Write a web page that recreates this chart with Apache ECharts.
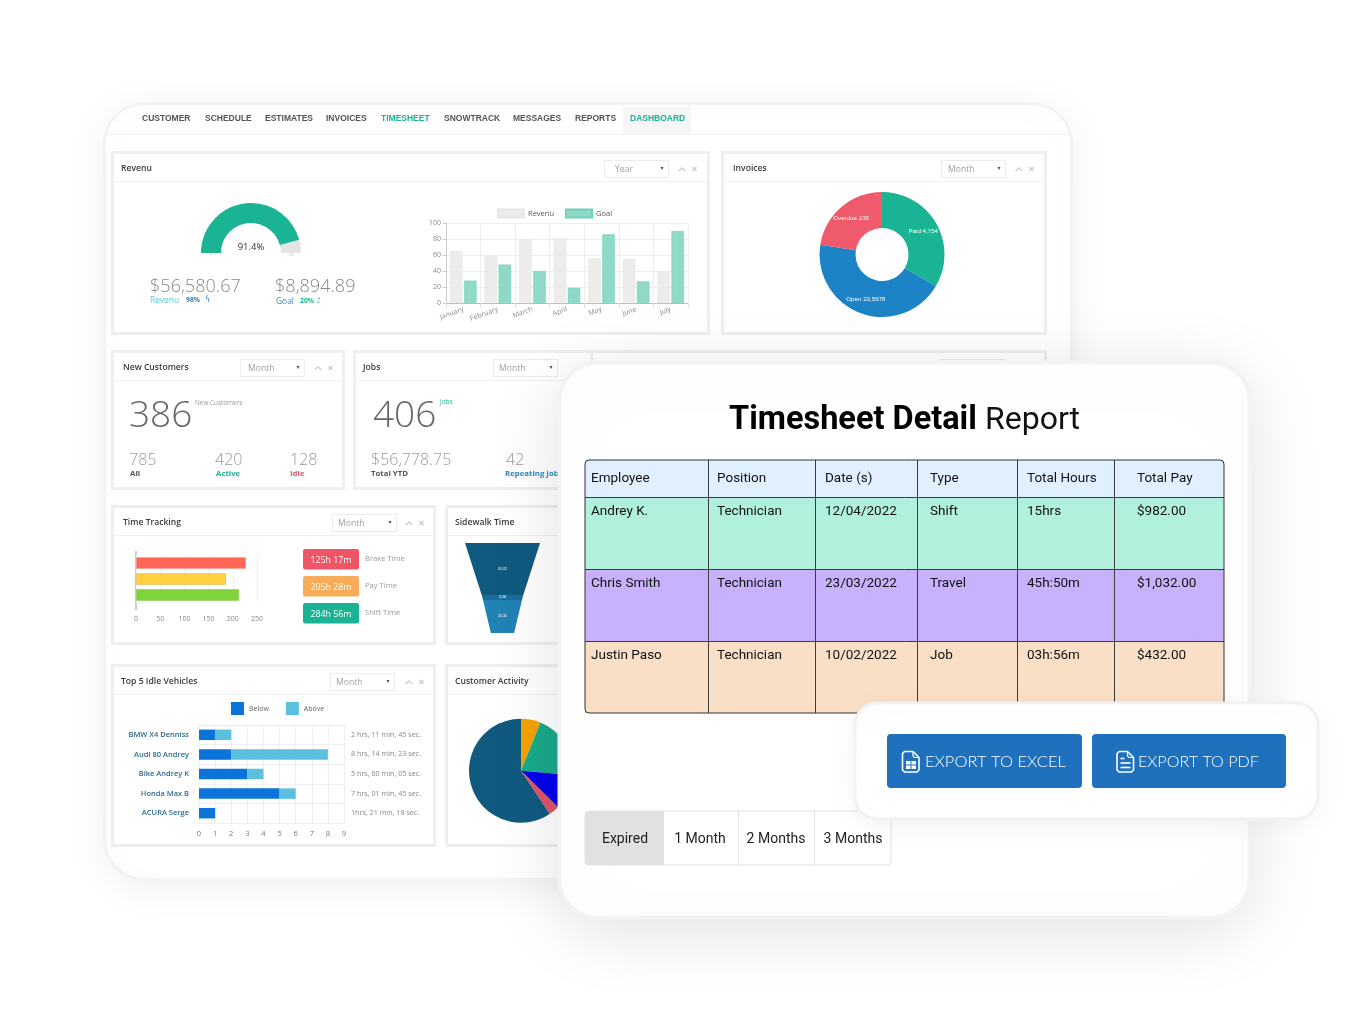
<!DOCTYPE html>
<html><head><meta charset="utf-8">
<style>html,body{margin:0;padding:0;background:#fff;width:1355px;height:1020px;overflow:hidden}
#dash,#report{position:absolute;left:0;top:0;width:1355px;height:1020px}
#dash{filter:blur(.45px)}</style>
<script src="https://cdn.jsdelivr.net/npm/echarts@6/dist/echarts.min.js"></script>
</head><body><div id="dash"></div><div id="report"></div>
<script>
// ---------- data ----------
var navItems=['CUSTOMER','SCHEDULE','ESTIMATES','INVOICES','TIMESHEET','SNOWTRACK','MESSAGES','REPORTS','DASHBOARD'];
var months=['January','February','March','April','May','June','July'];
var revenuValues=[65,59,80,81,56,55,40];
var goalValues=[28,48,40,19,86,27,90];
var gaugeValue=91.4;
var invoiceNames=['Paid 4,754','Open 23,5678','Overdue 235'];
var invoiceShares=[33.5,44,22.5];
var timeNames=['Brake Time','Pay Time','Shift Time'];
var timeValues=[227,186,213];
var timeBadges=['125h 17m','205h 28m','284h 56m'];
var funnelNames=['45,625','3,284','28,145'];
var funnelValues=[100,35.5,30.4];
var vehicles=['BMW X4 Denniss','Audi 80 Andrey','Bike Andrey K','Honda Max B','ACURA Serge'];
var belowValues=[1,2,3,5,1];
var aboveValues=[1,6,1,1,0];
var vehicleTimes=['2 hrs, 11 min, 45 sec.','8 hrs, 14 min, 23 sec.','5 hrs, 60 min, 05 sec.','7 hrs, 01 min, 45 sec.','1hrs, 21 min, 18 sec.'];
var activityNames=['Orange','Teal','Blue','Red','Navy'];
var activityShares=[6.1,20.3,11,3.3,59.3];
var tableHeader=['Employee','Position','Date (s)','Type','Total Hours','Total Pay'];
var tableRows=[
 ['Andrey K.','Technician','12/04/2022','Shift','15hrs','$982.00'],
 ['Chris Smith','Technician','23/03/2022','Travel','45h:50m','$1,032.00'],
 ['Justin Paso','Technician','10/02/2022','Job','03h:56m','$432.00']];
var tabLabels=['Expired','1 Month','2 Months','3 Months'];

// ---------- helpers ----------
var OS='"Open Sans",sans-serif', GS='Roboto,sans-serif';
var g=[];
function T(x,y,text,size,color,o){o=o||{};g.push({type:'text',x:x,y:y,z:o.z==null?-1:o.z,silent:true,style:{text:text,fontSize:size,fill:color,fontFamily:o.font||OS,fontWeight:o.w||400,align:o.a||'left',verticalAlign:'middle'}});}
function R(x,y,w,h,fill,o){o=o||{};g.push({type:'rect',z:o.z==null?-3:o.z,silent:true,shape:{x:x,y:y,width:w,height:h,r:o.r||0},style:{fill:fill,stroke:o.s||null,lineWidth:o.lw||0,shadowBlur:o.sb||0,shadowColor:o.sc||'transparent',shadowOffsetY:o.sy||0}});}
function L(pts,color,lw,z){g.push({type:'polyline',z:z==null?-2:z,silent:true,shape:{points:pts},style:{stroke:color,lineWidth:lw||1,fill:null}});}
function controls(sx,label,cx,y,noChev,lx){
 R(sx+.5,y+.5,64,17,'#fff',{s:'#ececec',lw:1,z:-2});
 T(sx+(lx||8),y+9.5,label,8.6,'#a0a0a0');
 T(sx+58,y+8.5,'▾',6,'#555',{font:'"DejaVu Sans"',a:'center'});
 if(!noChev) L([[cx-3.5,y+11],[cx,y+8],[cx+3.5,y+11]],'#cfcfcf',1.4);
 var xx=cx+12.5;
 L([[xx-2,y+7],[xx+2,y+11]],'#cfcfcf',1.4);L([[xx+2,y+7],[xx-2,y+11]],'#cfcfcf',1.4);
}
function panel(x,y,w,h,title,tx,tsize){
 R(x+1.5,y+1.5,w-3,h-3,'#fff',{s:'#efefef',lw:3});
 L([[x+3,y+30.5],[x+w-3,y+30.5]],'#f1f1f1',1);
 T(tx,y+17.8,title,tsize||8.6,'#3a3a3a',{w:600});
}

// ---------- dashboard chrome ----------
R(104.5,103.5,967,776,'#fff',{r:40,s:'#f3f3f3',lw:3,z:-9,sb:40,sc:'rgba(0,0,0,.07)',sy:6});
L([[107,134.5],[1070,134.5]],'#f2f2f2',1,-8);
R(623,106,68,28,'#f6f6f6',{z:-8});
var navX=[142,205,265,326,381,444,513,575,630];
navItems.forEach(function(n,i){T(navX[i],119,n,8.5,(i==4||i==8)?'#1ab394':'#555',{w:700,font:'"Liberation Sans"'});});

panel(111,151,599,184,'Revenu',121);
controls(604,'Year',682,160,false,11);
panel(721,151,326,184,'Invoices',733);
controls(941,'Month',1019,160,false,7);
panel(111,350,234,140,'New Customers',123);
controls(240,'Month',318,359);
panel(353,350,240,140,'Jobs',363);
controls(493,'Month',581,359,true,6);
panel(590,350,457,140,'',600);
controls(940,'Month',1019,359);
panel(111,505,325,140,'Time Tracking',123);
controls(332,'Month',409,514,false,6);
panel(445,505,240,140,'Sidewalk Time',455);
panel(111,664,325,183,'Top 5 Idle Vehicles',121);
controls(330,'Month',409,673,false,6);
panel(445,664,240,183,'Customer Activity',455);

// revenue panel texts
T(251,247.5,gaugeValue+'%',9.5,'#333',{a:'center'});
T(211,255,'0',3,'#bbb',{a:'center'});T(291,255,'100',3,'#bbb',{a:'center'});
T(150,286.5,'$56,580.67',18.1,'#8a8a8a',{w:300});
T(275,286.5,'$8,894.89',18.1,'#8a8a8a',{w:300});
T(150,300.5,'Revenu',8.4,'#62c5d6');T(186,300.5,'98%',6.8,'#2a7fc0',{w:700});
T(205,300,'ϟ',8,'#2a7fc0',{font:'"DejaVu Sans"'});
T(276,301.5,'Goal',8.4,'#2a8cc0');T(300,301.5,'20%',6.8,'#1ab394',{w:700});
T(317,301,'⤴',7,'#1ab394',{font:'"DejaVu Sans"'});

// customers
T(129,416,'386',37,'#666',{w:300});T(195,403.5,'New Customers',6.4,'#999');
T(129,460,'785',16,'#999',{w:300});T(130,473.5,'All',7.8,'#555',{w:700});
T(215,460,'420',16,'#999',{w:300});T(216,473.5,'Active',7.8,'#1ab394',{w:700});
T(290,460,'128',16,'#999',{w:300});T(290,473.5,'Idle',7.8,'#e25668',{w:700});
// jobs
T(373,416,'406',37,'#666',{w:300});T(440,402,'Jobs',6.4,'#1ab394');
T(371,460,'$56,778.75',16,'#999',{w:300});T(371,473.5,'Total YTD',7.8,'#555',{w:700});
T(506,460,'42',16,'#999',{w:300});T(505,473.5,'Repeating Jobs',7.8,'#2a8cc0',{w:700});
// time badges
var badgeY=[549,576,603],badgeColors=['#ee5566','#f8ac59','#1ab394'];
timeBadges.forEach(function(b,i){
 R(303,badgeY[i],56,20.5,badgeColors[i],{r:2,z:-2});
 T(331,badgeY[i]+11,b,8.8,'#fff',{a:'center'});
 T(365,badgeY[i]+10,timeNames[i],7.6,'#999');
});
L([[136,551],[136,610]],'#bbb',1.5,-1);

var dash=echarts.init(document.getElementById('dash'));
var axisText={color:'#888',fontFamily:OS,fontSize:7};
dash.setOption({
 animation:false,
 graphic:{elements:g},
 legend:[
  {data:['Revenu','Goal'],left:497,top:208.5,icon:'rect',itemWidth:26,itemHeight:8,itemGap:11,padding:0,selectedMode:false,textStyle:{fontSize:7.5,color:'#555',fontFamily:OS,padding:[0,0,0,-1]}},
  {data:['Below','Above'],left:231,top:702,icon:'rect',itemWidth:13,itemHeight:13,itemGap:17,padding:0,selectedMode:false,textStyle:{fontSize:7,color:'#666',fontFamily:OS}}
 ],
 grid:[
  {left:446,top:223,width:242,height:80},
  {left:136,top:555,width:121,height:48},
  {left:199,top:725,width:145,height:98}
 ],
 xAxis:[
  {gridIndex:0,type:'category',data:months,axisLine:{lineStyle:{color:'#bbb'}},axisTick:{show:true,alignWithLabel:false,length:5,lineStyle:{color:'#e3e3e3'}},splitLine:{show:true,lineStyle:{color:'#ededed'}},axisLabel:Object.assign({},axisText,{rotate:20,margin:6,interval:0})},
  {gridIndex:1,type:'value',min:0,max:250,interval:50,axisLine:{show:false},axisTick:{show:false},splitLine:{lineStyle:{color:'#f0f0f0'}},axisLabel:Object.assign({},axisText,{margin:12})},
  {gridIndex:2,type:'value',min:0,max:9,interval:1,axisLine:{show:false},axisTick:{show:false},splitLine:{lineStyle:{color:'#efefef'}},axisLabel:Object.assign({},axisText,{fontSize:7.5,margin:7,color:'#777'})}
 ],
 yAxis:[
  {gridIndex:0,type:'value',min:0,max:100,interval:20,axisLine:{show:true,lineStyle:{color:'#ccc'}},axisTick:{show:true,length:3,lineStyle:{color:'#ccc'}},splitLine:{lineStyle:{color:'#ededed'}},axisLabel:Object.assign({},axisText,{margin:5})},
  {gridIndex:1,type:'category',inverse:true,data:timeNames,axisLine:{show:false},axisTick:{show:false},axisLabel:{show:false}},
  {gridIndex:2,type:'category',inverse:true,data:vehicles,axisLine:{show:false},axisTick:{show:false},splitLine:{show:true,lineStyle:{color:'#efefef'}},axisLabel:{fontSize:7.5,fontWeight:600,color:'#2c6a8e',fontFamily:OS,margin:10}},
  {gridIndex:2,type:'category',inverse:true,position:'right',data:vehicleTimes,axisLine:{show:false},axisTick:{show:false},axisLabel:{fontSize:7.2,color:'#888',fontFamily:OS,margin:7}}
 ],
 series:[
  {type:'gauge',center:[251,253],radius:50,startAngle:180,endAngle:0,min:0,max:100,pointer:{show:false},axisTick:{show:false},splitLine:{show:false},axisLabel:{show:false},title:{show:false},detail:{show:false},
   axisLine:{lineStyle:{width:20,color:[[gaugeValue/100,'#1ab394'],[1,'#e4e4e4']]}},data:[{value:gaugeValue}]},
  {name:'Revenu',type:'bar',xAxisIndex:0,yAxisIndex:0,data:revenuValues,barWidth:12.5,barGap:'12%',itemStyle:{color:'#ececec',borderColor:'#e6e6e6',borderWidth:.5}},
  {name:'Goal',type:'bar',xAxisIndex:0,yAxisIndex:0,data:goalValues,barWidth:12.5,itemStyle:{color:'#8fd9c6',borderColor:'#6fd0b8',borderWidth:.5}},
  {type:'pie',center:[882,254.5],radius:[26.5,62.5],startAngle:90,clockwise:true,
   data:invoiceNames.map(function(n,i){return {name:n,value:invoiceShares[i],itemStyle:{color:['#1ab394','#1c84c6','#ef5a6c'][i]}};}),
   label:{show:true,position:'inside',formatter:'{b}',color:'#fff',fontSize:6.2,fontFamily:'"Liberation Sans"'},labelLine:{show:false},emphasis:{disabled:true}},
  {type:'bar',xAxisIndex:1,yAxisIndex:1,barWidth:11.5,data:timeValues.map(function(v,i){return {value:v,itemStyle:{color:['#ff6655','#ffd040','#7ed43a'][i],borderColor:['#e8a090','#e2bb55','#8ec85e'][i],borderWidth:.6}};})},
  {type:'funnel',left:465,top:543,width:75,height:90,min:0,max:100,minSize:'31%',maxSize:'100%',sort:'none',gap:0,funnelAlign:'center',
   label:{show:true,position:'inside',color:'#fff',fontSize:3,formatter:'{b}',fontFamily:'"Liberation Sans"'},labelLine:{show:false},emphasis:{disabled:true},
   data:funnelNames.map(function(n,i){return {name:n,value:funnelValues[i],itemStyle:{color:['#105a80','#1b6c99','#2182b6'][i],borderWidth:0,height:['57.8%','5.5%','36.7%'][i]}};})},
  {name:'Below',type:'bar',xAxisIndex:2,yAxisIndex:2,stack:'idle',barWidth:10.5,data:belowValues,itemStyle:{color:'#0a74da'}},
  {name:'Above',type:'bar',xAxisIndex:2,yAxisIndex:2,stack:'idle',barWidth:10.5,data:aboveValues,itemStyle:{color:'#5bc0de'}},
  {type:'pie',center:[521,770.7],radius:[0,52],startAngle:90,clockwise:true,label:{show:false},labelLine:{show:false},emphasis:{disabled:true},
   data:activityNames.map(function(n,i){return {name:n,value:activityShares[i],itemStyle:{color:['#f5a300','#1aab8a','#0000ee','#e0556a','#105a80'][i]}};})}
 ]
});

// ---------- report card (overlay) ----------
g=[];
R(559.5,362.5,690,555,'#fff',{r:38,s:'#f3f3f3',lw:4,z:1,sb:70,sc:'rgba(0,0,0,.13)',sy:12});
T(729,420.5,'Timesheet Detail',32.5,'#000',{w:700,font:GS,z:2});
T(985,420.5,'Report',32,'#111',{w:400,font:GS,z:2});
var colX=[585,708,815,917,1017,1114,1224],textX=[591,717,825,930,1027,1137];
var rowY=[460,497,569,641,713],rowFill=['#e0f0ff','#b1f0dc','#c8b2fe','#f9dfc6'];
rowFill.forEach(function(f,i){R(585,rowY[i],639,rowY[i+1]-rowY[i],f,{z:2,r:i==0?[4,4,0,0]:0});});
rowY.slice(1,4).forEach(function(y){L([[585,y+.5],[1224,y+.5]],'#3a3a3a',1,3);});
colX.slice(1,6).forEach(function(x){L([[x+.5,460],[x+.5,713]],'#3a3a3a',1,3);});
R(585,460,639,253,'transparent',{z:3,s:'#333',lw:1,r:4});
tableHeader.forEach(function(h,c){T(textX[c],479,h,13.5,'#111',{font:GS,z:4});});
tableRows.forEach(function(r,i){r.forEach(function(v,c){T(textX[c],rowY[i+1]+15,v,13.5,'#111',{font:GS,z:4});});});
// tabs
R(585,811,306,54,'#fff',{z:2,s:'#e4e4e4',lw:1,r:4});
R(585,811,79,54,'#e1e1e1',{z:2,r:[4,0,0,4]});
[738,814].forEach(function(x){L([[x+.5,811],[x+.5,865]],'#e4e4e4',1,3);});
var tabCx=[625,700,776,853];
tabLabels.forEach(function(t,i){T(tabCx[i],839,t,14,'#222',{font:GS,a:'center',z:4});});
// export card
R(855,703,463,116,'#fff',{r:22,s:'#f1f1f1',lw:3,z:5,sb:30,sc:'rgba(0,0,0,.05)',sy:6});
R(887,734,195,54,'#1f71bd',{r:4,z:6});R(1092,734,194,54,'#1f71bd',{r:4,z:6});
T(925,761.5,'EXPORT TO EXCEL',16.5,'#fff',{font:'Lato',w:300,z:7});
T(1138,761.5,'EXPORT TO PDF',16.1,'#fff',{font:'Lato',w:300,z:7});
function fileIcon(x){
 L([[x+2,751.5],[x+10.5,751.5],[x+16.5,757.5],[x+16.5,770],[x+14.5,772],[x+2,772],[x,770],[x,753.5],[x+2,751.5]],'#fff',1.6,7);
 L([[x+10.5,751.5],[x+10.5,756],[x+12,757.5],[x+16.5,757.5]],'#fff',1.2,7);
}
fileIcon(902.5);fileIcon(1117);
R(906,761,10,8,'#fff',{z:7});
L([[911,761],[911,769]],'#1f71bd',1,8);L([[906,765],[916,765]],'#1f71bd',1,8);
L([[1120.5,758.5],[1124.5,758.5]],'#fff',1.6,8);
L([[1120.5,763],[1130.5,763]],'#fff',1.6,8);
L([[1120.5,767.5],[1130.5,767.5]],'#fff',1.6,8);

var rep=echarts.init(document.getElementById('report'));
rep.setOption({animation:false,backgroundColor:'transparent',graphic:{elements:g}});
</script></body></html>
